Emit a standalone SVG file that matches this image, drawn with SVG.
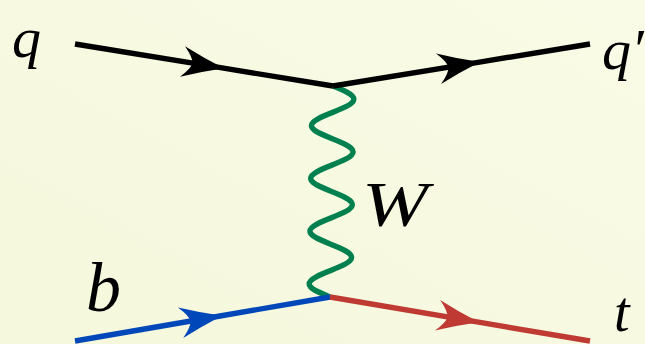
<svg xmlns="http://www.w3.org/2000/svg" width="645" height="344" viewBox="0 0 645 344">
  <defs>
    <linearGradient id="bg" x1="0" y1="1" x2="1" y2="0">
      <stop offset="0" stop-color="#F5F8DC"/>
      <stop offset="1" stop-color="#F9FBE6"/>
    </linearGradient>
    <marker id="arrK" viewBox="-44 -18 46 36" refX="0" refY="0" markerWidth="46" markerHeight="36" markerUnits="userSpaceOnUse" orient="auto">
      <path d="M2,0 Q-20,-7 -40,-15.5 Q-30,-5 -30,0 Q-30,5 -40,15.5 Q-20,7 2,0 Z" fill="#000000"/>
    </marker>
    <marker id="arrB" viewBox="-44 -18 46 36" refX="0" refY="0" markerWidth="46" markerHeight="36" markerUnits="userSpaceOnUse" orient="auto">
      <path d="M2,0 Q-20,-7 -40,-15.5 Q-30,-5 -30,0 Q-30,5 -40,15.5 Q-20,7 2,0 Z" fill="#0048BA"/>
    </marker>
    <marker id="arrR" viewBox="-44 -18 46 36" refX="0" refY="0" markerWidth="46" markerHeight="36" markerUnits="userSpaceOnUse" orient="auto">
      <path d="M2,0 Q-20,-7 -40,-15.5 Q-30,-5 -30,0 Q-30,5 -40,15.5 Q-20,7 2,0 Z" fill="#BE3A32"/>
    </marker>
  </defs>
  <style>
    .line { fill: none; stroke-width: 5.4; stroke-linecap: butt; stroke-linejoin: round; }
    .lbl { font-family: 'Liberation Serif', 'Times New Roman', serif; font-style: italic; fill: #000000; }
  </style>
  <rect x="0" y="0" width="645" height="344" fill="url(#bg)"/>

  <g id="connectors">
    <path id="photon-W" class="line" stroke="#00804F" transform="matrix(1,0,-0.01422,1,333,86)"
      d="M0,0 C10.76,4.30 21,8.415 21,13.19 C21,17.96 10.76,22.07 0,26.375 C-10.76,30.68 -21,34.79 -21,39.56 C-21,44.34 -10.76,48.45 0,52.75
         C10.76,57.05 21,61.165 21,65.94 C21,70.71 10.76,74.82 0,79.125 C-10.76,83.43 -21,87.54 -21,92.31 C-21,97.09 -10.76,101.2 0,105.5
         C10.76,109.8 21,113.915 21,118.69 C21,123.46 10.76,127.57 0,131.875 C-10.76,136.18 -21,140.29 -21,145.06 C-21,149.84 -10.76,153.95 0,158.25
         C10.76,162.55 21,166.665 21,171.44 C21,176.21 10.76,180.32 0,184.625 C-10.76,188.93 -21,193.04 -21,197.81 C-21,202.59 -10.76,206.7 0,211"/>
    <path id="fermion-q" class="line" stroke="#000000" marker-mid="url(#arrK)" d="M75,44 L222,67.9 L333,86"/>
    <path id="fermion-qp" class="line" stroke="#000000" marker-mid="url(#arrK)" d="M333,86 L478,62.3 L590,44"/>
    <path id="fermion-b" class="line" stroke="#0048BA" marker-mid="url(#arrB)" d="M75,341 L220,316 L330,297"/>
    <path id="fermion-t" class="line" stroke="#BE3A32" marker-mid="url(#arrR)" d="M330,297 L477,321.9 L590,341"/>
  </g>

  <g id="label-q"><text class="lbl" x="12" y="57" font-size="58">q</text></g>
  <g id="label-qprime"><text class="lbl" x="602" y="69" font-size="58">q′</text></g>
  <g id="label-W"><text class="lbl" x="362" y="226" font-size="64" textLength="66" lengthAdjust="spacingAndGlyphs">W</text></g>
  <g id="label-b"><text class="lbl" x="86" y="311" font-size="70">b</text></g>
  <g id="label-t"><text class="lbl" x="614" y="331" font-size="56">t</text></g>
</svg>
